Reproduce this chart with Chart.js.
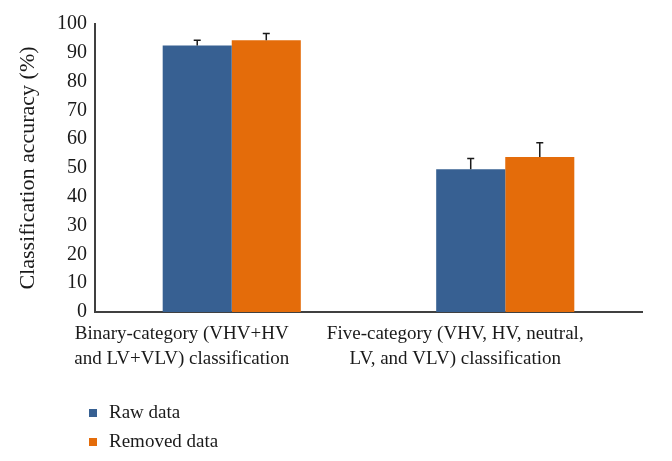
<!DOCTYPE html>
<html>
<head>
<meta charset="utf-8">
<style>
  html, body { margin: 0; padding: 0; background: #fff; overflow: hidden; }
</style>
<script src="https://cdn.jsdelivr.net/npm/chart.js@4/dist/chart.umd.min.js"></script>
</head>
<body>
<canvas id="chart" width="672" height="461"></canvas>
<script>
// data
const categories = [
  ["Binary-category (VHV+HV", "and LV+VLV) classification"],
  ["Five-category (VHV, HV, neutral,", "LV, and VLV) classification"]
];
const rawData = [92.5, 49.6];
const rawErr = [1.9, 3.7];
const removedData = [94.4, 53.8];
const removedErr = [2.3, 5.0];
const yTicks = [0, 10, 20, 30, 40, 50, 60, 70, 80, 90, 100];

const seriesNames = ["Raw data", "Removed data"];
const colors = ["#376092", "#E46C0A"];
const serif = "'Liberation Serif', 'DejaVu Serif', serif";

// upper error bars only
const errorBars = {
  id: "errorBars",
  afterDatasetsDraw(chart) {
    const ctx = chart.ctx;
    const y = chart.scales.y;
    ctx.save();
    ctx.strokeStyle = "#1a1a1a";
    ctx.lineWidth = 1.5;
    chart.data.datasets.forEach((ds, i) => {
      chart.getDatasetMeta(i).data.forEach((bar, j) => {
        const top = y.getPixelForValue(ds.data[j] + ds.errors[j]);
        ctx.beginPath();
        ctx.moveTo(bar.x, bar.y);
        ctx.lineTo(bar.x, top);
        ctx.moveTo(bar.x - 3.5, top);
        ctx.lineTo(bar.x + 3.5, top);
        ctx.stroke();
      });
    });
    ctx.restore();
  }
};

// stacked legend at bottom left
const stackedLegend = {
  id: "stackedLegend",
  afterDraw(chart) {
    const ctx = chart.ctx;
    ctx.save();
    ctx.font = "19px " + serif;
    ctx.textBaseline = "middle";
    chart.data.datasets.forEach((ds, i) => {
      const cy = 413 + i * 29;
      ctx.fillStyle = ds.backgroundColor;
      ctx.fillRect(89, cy - 4, 8, 8);
      ctx.fillStyle = "#1a1a1a";
      ctx.fillText(ds.label, 109, cy);
    });
    ctx.restore();
  }
};

new Chart(document.getElementById("chart"), {
  type: "bar",
  data: {
    labels: categories,
    datasets: [
      { label: seriesNames[0], data: rawData, errors: rawErr, backgroundColor: colors[0] },
      { label: seriesNames[1], data: removedData, errors: removedErr, backgroundColor: colors[1] }
    ]
  },
  options: {
    responsive: false,
    animation: false,
    categoryPercentage: 0.505,
    barPercentage: 1.0,
    layout: { padding: { left: 15, right: 30, top: 24, bottom: 0 } },
    plugins: {
      legend: { display: false },
      tooltip: { enabled: false }
    },
    scales: {
      x: {
        grid: { display: false, drawTicks: false },
        border: { color: "#404040", width: 2 },
        ticks: {
          color: "#1a1a1a",
          font: { family: serif, size: 19, lineHeight: 1.35 },
          padding: 9,
          labelOffset: -50,
          maxRotation: 0,
          autoSkip: false
        },
        afterFit(scale) { scale.height = 149; }
      },
      y: {
        min: 0,
        max: 100,
        afterBuildTicks(scale) { scale.ticks = yTicks.map(v => ({ value: v })); },
        grid: { display: false, drawTicks: true, tickLength: 4, tickColor: "#404040", tickWidth: 1.5 },
        border: { color: "#404040", width: 2 },
        ticks: {
          color: "#1a1a1a",
          font: { family: serif, size: 20 },
          padding: 4
        },
        title: {
          display: true,
          text: "Classification accuracy (%)",
          color: "#1a1a1a",
          font: { family: serif, size: 22 },
          padding: { top: 0, bottom: 6 }
        },
        afterFit(scale) { scale.width = 80; }
      }
    }
  },
  plugins: [errorBars, stackedLegend]
});
</script>
</body>
</html>
